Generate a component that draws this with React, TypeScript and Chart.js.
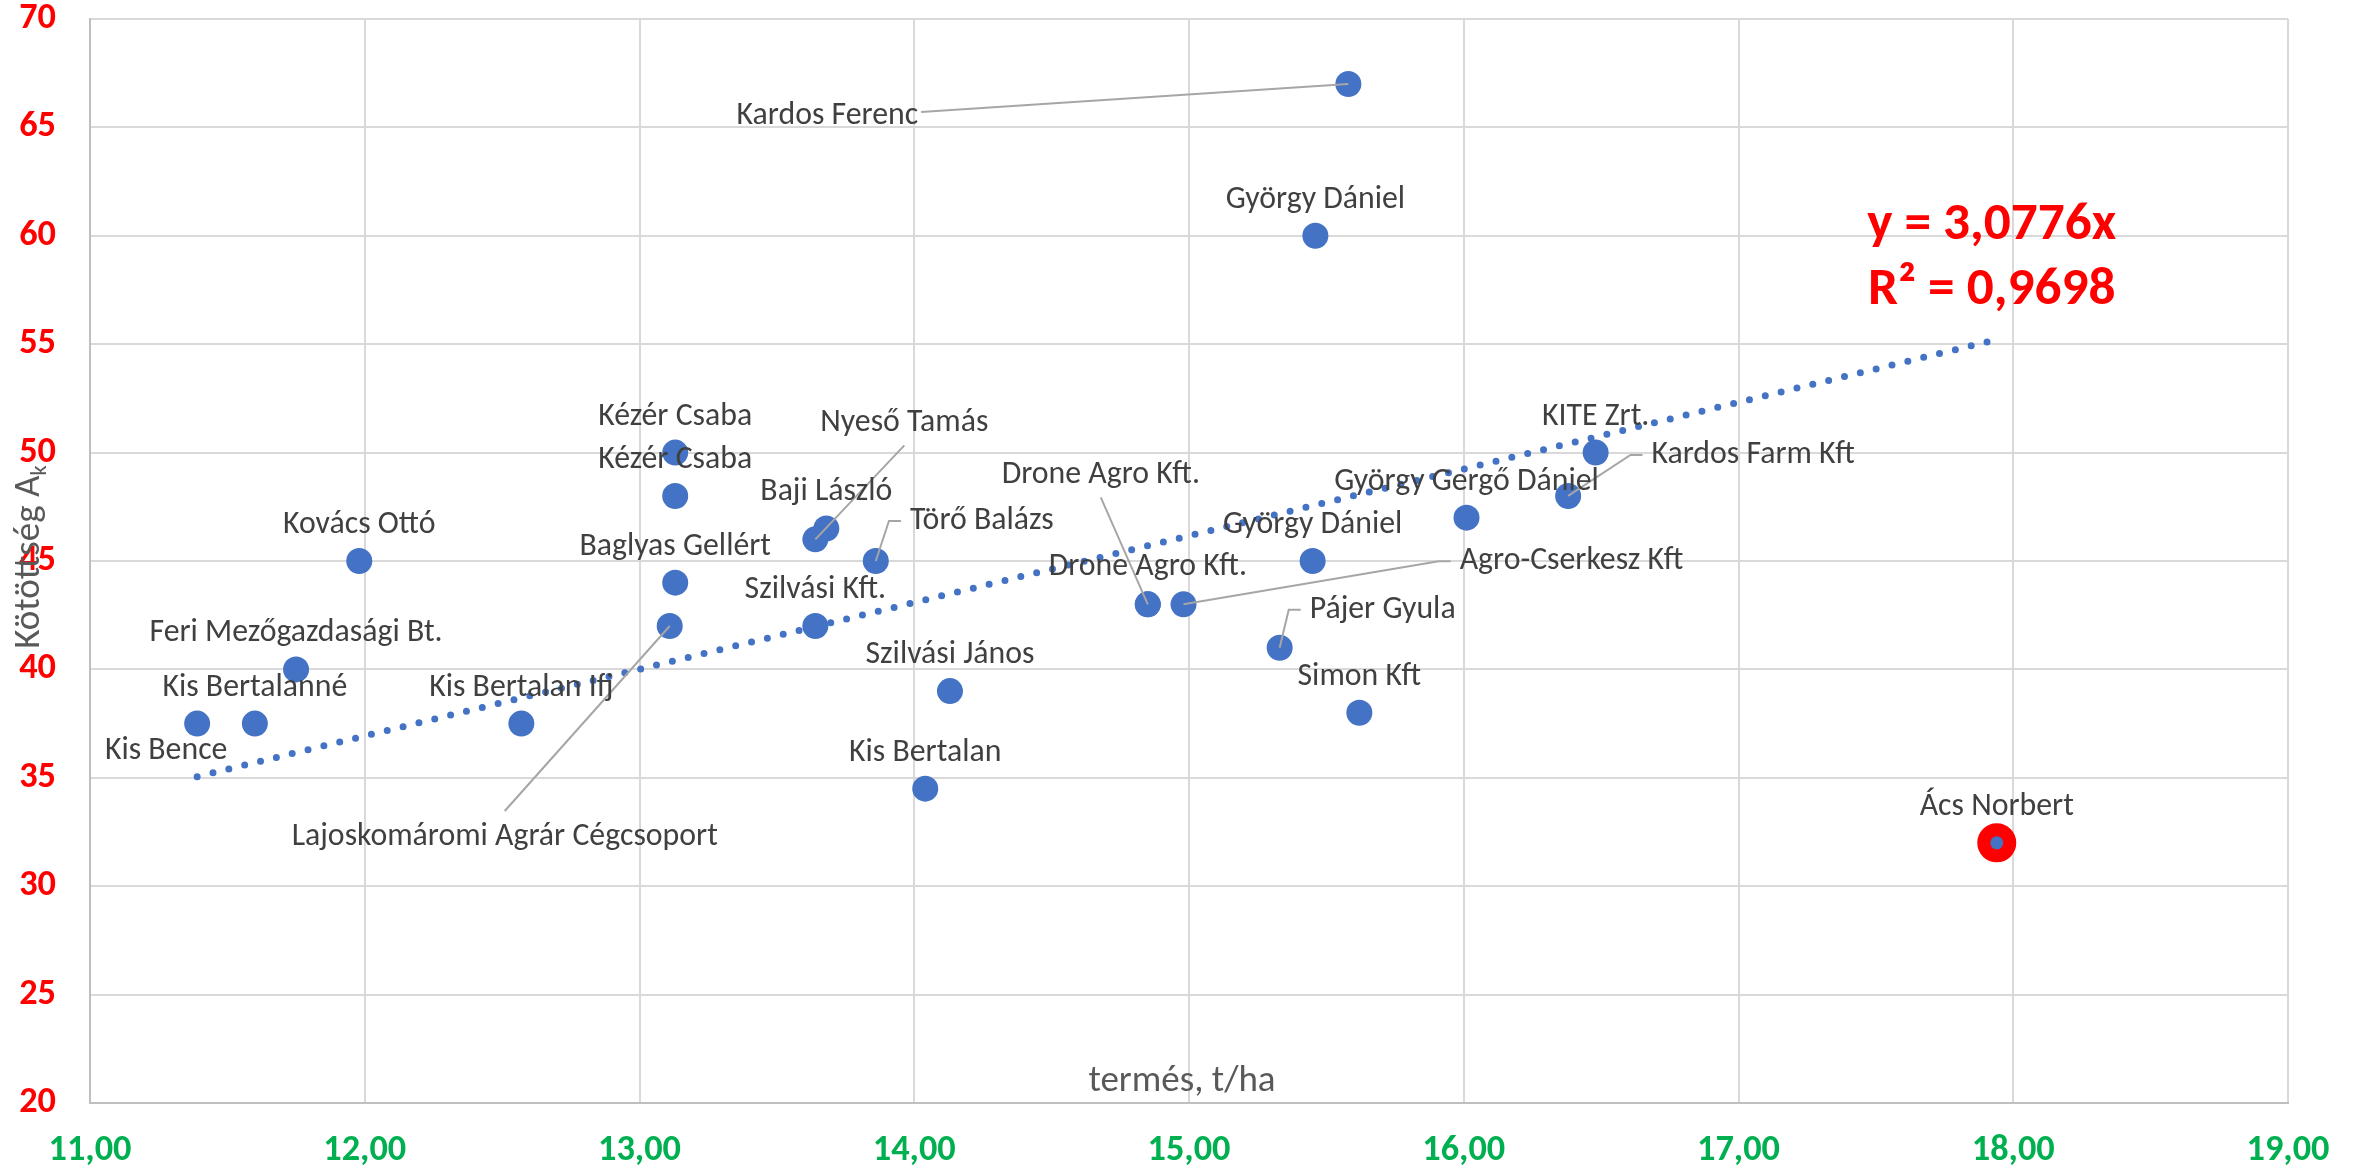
import React, { useEffect, useRef } from 'react';
import { Chart, registerables } from 'chart.js';

Chart.register(...registerables);

// ---------- data ----------
const names = [
  'Kardos Ferenc', 'György Dániel', 'Kézér Csaba', 'Kézér Csaba', 'Kovács Ottó',
  'Baglyas Gellért', 'Lajoskomáromi Agrár Cégcsoport', 'Feri Mezőgazdasági Bt.',
  'Kis Bertalanné', 'Kis Bence', 'Kis Bertalan Ifj', 'Baji László', 'Nyeső Tamás',
  'Törő Balázs', 'Szilvási Kft.', 'Szilvási János', 'Kis Bertalan', 'Drone Agro Kft.',
  'Drone Agro Kft.', 'Agro-Cserkesz Kft', 'György Dániel', 'Pájer Gyula', 'Simon Kft',
  'György Gergő Dániel', 'Kardos Farm Kft', 'KITE Zrt.', 'Ács Norbert',
];
const termes = [
  15.58, 15.46, 13.13, 13.13, 11.98,
  13.13, 13.11, 11.75,
  11.60, 11.39, 12.57, 13.68, 13.64,
  13.86, 13.64, 14.13, 14.04, 14.85,
  14.85, 14.98, 15.45, 15.33, 15.62,
  16.01, 16.38, 16.48, 17.94,
];
const kotottseg = [
  67, 60, 50, 48, 45,
  44, 42, 40,
  37.5, 37.5, 37.5, 46.5, 46,
  45, 42, 39, 34.5, 43,
  43, 43, 45, 41, 38,
  47, 48, 50, 32,
];
const highlighted = 'Ács Norbert';

const xTickLabels = ['11,00', '12,00', '13,00', '14,00', '15,00', '16,00', '17,00', '18,00', '19,00'];
const yTickLabels = ['20', '25', '30', '35', '40', '45', '50', '55', '60', '65', '70'];
const trendSlope = 3.0776;
const trendText = 'y = 3,0776x';
const r2Text = 'R² = 0,9698';
const xTitle = 'termés, t/ha';
const yTitle = 'Kötöttség A';
const yTitleSub = 'k';

// label placement (pixel offsets of the label centre from its point) and leader style
const labelDx = [
  -521, 0, 0, 0, 0,
  0, -165, 0,
  0, -31, 0, 0, 89,
  106, 0, 0, 0, -47,
  0, 388, 0, 103, 0,
  0, 185, 0, 0,
];
const labelDy = [
  32, -36, -36, -36, -36,
  -36, 211, -36,
  -36, 27, -36, -36, -116,
  -40, -36, -36, -36, -129,
  -37, -43, -36, -38, -36,
  -36, -41, -36, -36,
];
const leaders = [
  'right', '', '', '', '',
  '', 'top', '',
  '', '', '', '', 'bottom',
  'left', '', '', '', 'bottom',
  '', 'left', '', 'left', '',
  '', 'left', '', '',
];

// ---------- fonts ----------
function hasFont(name: string): boolean {
  const ctx = document.createElement('canvas').getContext('2d')!;
  const s = 'abcdefghijklmnopqrstuvwxyzÁÉőű0123456789';
  ctx.font = '40px monospace';
  const a = ctx.measureText(s).width;
  ctx.font = `40px "${name}", monospace`;
  const b = ctx.measureText(s).width;
  ctx.font = '40px serif';
  const c = ctx.measureText(s).width;
  ctx.font = `40px "${name}", serif`;
  const d = ctx.measureText(s).width;
  return a !== b || c !== d;
}

function fitSize(family: string, weight: string, sample: string, target: number): number {
  const ctx = document.createElement('canvas').getContext('2d')!;
  ctx.font = `${weight} 100px ${family}`;
  const w = ctx.measureText(sample).width;
  return Math.round((100 * target / w) * 10) / 10;
}

export default function App() {
  const ref = useRef<HTMLCanvasElement>(null);

  useEffect(() => {
    const family = hasFont('Carlito') ? '"Carlito"' : '"Open Sans"';
    const labelSize = fitSize(family, 'normal', 'Lajoskomáromi Agrár Cégcsoport', 426);
    const tickSize = fitSize(family, 'bold', '10,00', 83);
    const eqSize = fitSize(family, 'bold', trendText, 249);
    const titleSize = fitSize(family, 'normal', xTitle, 187);

    const xMin = Math.min(...termes);
    const xMax = Math.max(...termes);
    const hi = names.indexOf(highlighted);

    const annot = {
      id: 'annot',
      afterDatasetsDraw(chart: any) {
        const ctx = chart.ctx as CanvasRenderingContext2D;
        const meta = chart.getDatasetMeta(0);
        const area = chart.chartArea;
        ctx.save();
        ctx.font = `${labelSize}px ${family}`;
        // leader lines
        ctx.strokeStyle = '#A6A6A6';
        ctx.lineWidth = 2;
        meta.data.forEach((el: any, i: number) => {
          const mode = leaders[i];
          if (!mode) return;
          const px = el.x, py = el.y;
          const cx = px + labelDx[i], cy = py + labelDy[i];
          const w = ctx.measureText(names[i]).width;
          ctx.beginPath();
          if (mode === 'left') {
            const sx = cx - w / 2 - 9;
            ctx.moveTo(sx, cy);
            ctx.lineTo(sx - 12, cy);
            ctx.lineTo(px, py);
          } else if (mode === 'right') {
            const sx = cx + w / 2 + 3;
            ctx.moveTo(sx, cy - 4);
            ctx.lineTo(px, py);
          } else if (mode === 'bottom') {
            ctx.moveTo(cx, cy + 22);
            ctx.lineTo(px, py);
          } else if (mode === 'top') {
            ctx.moveTo(cx, cy - 26);
            ctx.lineTo(px, py);
          }
          ctx.stroke();
        });
        // data labels
        ctx.fillStyle = '#404040';
        ctx.textAlign = 'center';
        ctx.textBaseline = 'middle';
        meta.data.forEach((el: any, i: number) => {
          ctx.fillText(names[i], el.x + labelDx[i], el.y + labelDy[i]);
        });

        // axis titles
        ctx.fillStyle = '#595959';
        ctx.font = `${titleSize}px ${family}`;
        ctx.fillText(xTitle, (area.left + area.right) / 2 - 7, area.bottom - 21);

        const subSize = titleSize * 0.62;
        const mainW = ctx.measureText(yTitle).width;
        ctx.font = `${subSize}px ${family}`;
        const subW = ctx.measureText(yTitleSub).width;
        const total = mainW + subW;
        ctx.save();
        ctx.translate(39, (area.top + area.bottom) / 2 - 4);
        ctx.rotate(-Math.PI / 2);
        ctx.textAlign = 'left';
        ctx.textBaseline = 'alphabetic';
        ctx.font = `${titleSize}px ${family}`;
        ctx.fillText(yTitle, -total / 2, 0);
        ctx.font = `${subSize}px ${family}`;
        ctx.fillText(yTitleSub, -total / 2 + mainW, 7);
        ctx.restore();

        // trendline equation
        const xs = chart.scales.x, ys = chart.scales.y;
        const ex = xs.getPixelForValue(xMax);
        const ey = ys.getPixelForValue(trendSlope * xMax);
        ctx.fillStyle = '#FF0000';
        ctx.font = `bold ${eqSize}px ${family}`;
        ctx.textAlign = 'center';
        ctx.fillText(trendText, ex - 5, ey - 114);
        ctx.fillText(r2Text, ex - 5, ey - 49);
        ctx.restore();
      },
    };

    const chart = new Chart(ref.current!, {
      type: 'scatter',
      data: {
        datasets: [
          {
            type: 'scatter',
            label: 'Kötöttség',
            data: termes.map((x, i) => ({ x, y: kotottseg[i] })),
            pointRadius: 13,
            pointHoverRadius: 13,
            pointBackgroundColor: '#4472C4',
            pointBorderColor: (c: any) => (c.dataIndex === hi ? '#FF0000' : '#4472C4'),
            pointBorderWidth: (c: any) => (c.dataIndex === hi ? 13 : 0),
            order: 1,
          } as any,
          {
            type: 'line',
            label: 'Lineáris trend',
            data: [
              { x: xMin, y: trendSlope * xMin },
              { x: xMax, y: trendSlope * xMax },
            ],
            borderColor: '#4472C4',
            borderWidth: 7,
            borderDash: [0, 16.3],
            borderCapStyle: 'round',
            pointRadius: 0,
            fill: false,
            order: 2,
          } as any,
        ],
      },
      options: {
        animation: false,
        responsive: false,
        maintainAspectRatio: false,
        devicePixelRatio: 1,
        layout: { autoPadding: false, padding: { left: 0, top: 19, right: 74, bottom: 0 } },
        plugins: {
          legend: { display: false },
          tooltip: { enabled: false },
          title: { display: false },
        },
        scales: {
          x: {
            type: 'linear',
            min: 11,
            max: 19,
            ticks: {
              stepSize: 1,
              color: '#00B050',
              font: { family, size: tickSize, weight: 'bold' },
              padding: 26,
              callback: (_v: any, i: number) => xTickLabels[i],
              maxRotation: 0,
            },
            grid: { color: '#D9D9D9', lineWidth: 2, drawTicks: false },
            border: { color: '#BFBFBF', width: 2 },
            afterFit: (s: any) => {
              s.height = 68;
              s.paddingLeft = 0;
              s.paddingRight = 0;
            },
          },
          y: {
            type: 'linear',
            min: 20,
            max: 70,
            ticks: {
              stepSize: 5,
              color: '#FF0000',
              font: { family, size: tickSize, weight: 'bold' },
              padding: 34,
              callback: (_v: any, i: number) => yTickLabels[i],
            },
            grid: { color: '#D9D9D9', lineWidth: 2, drawTicks: false },
            border: { color: '#BFBFBF', width: 2 },
            afterFit: (s: any) => {
              s.width = 90;
              s.paddingTop = 0;
              s.paddingBottom = 0;
            },
          },
        },
      } as any,
      plugins: [annot],
    });
    return () => chart.destroy();
  }, []);

  return (
    <div style={{ position: 'absolute', left: 0, top: 0, width: 2362, height: 1171, background: '#fff' }}>
      <canvas ref={ref} width={2362} height={1171} style={{ display: 'block' }} />
    </div>
  );
}
